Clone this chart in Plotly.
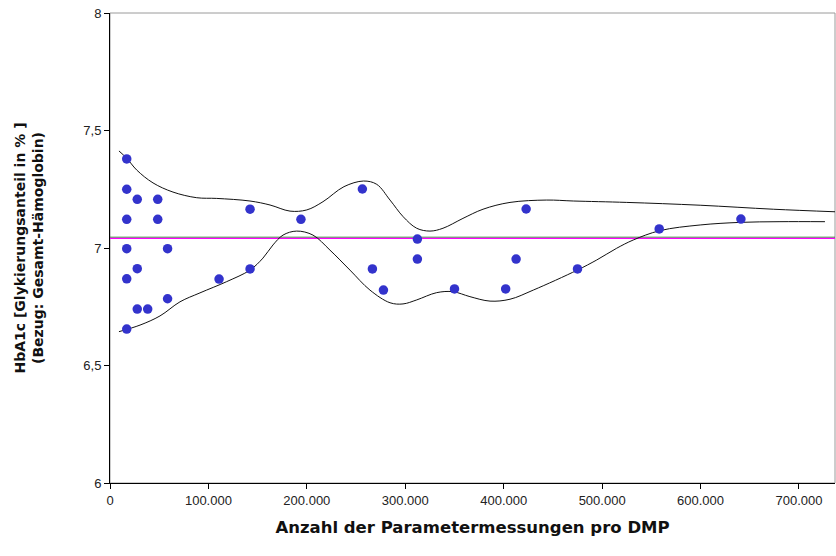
import plotly.graph_objects as go

# Scatter points (x = Anzahl Parametermessungen, y = HbA1c %)
pts_x = [17000, 17000, 27700, 48500, 17000, 48500, 17000, 58500, 27700, 17000,
         58500, 27700, 38300, 17000,
         142300, 194000, 110800, 142300,
         256400, 312300, 312300, 266600, 277800, 350000, 402000, 412600, 422800,
         475000, 558000, 641000]
pts_y = [7.379, 7.250, 7.207, 7.207, 7.122, 7.122, 6.997, 6.997, 6.912, 6.869,
         6.784, 6.740, 6.740, 6.655,
         7.165, 7.122, 6.868, 6.911,
         7.251, 7.038, 6.953, 6.911, 6.821, 6.826, 6.826, 6.953, 7.166,
         6.911, 7.081, 7.123]

# Upper envelope curve
up_x = [9100, 17000, 27100, 43700, 64000, 88100, 108400, 142200, 162600, 182900,
        199900, 216400, 237700, 257600, 271000, 284500, 297900, 311600, 325100,
        338300, 358600, 379000, 406400, 443700, 470700, 525000, 599600, 673900, 737600]
up_y = [7.413, 7.382, 7.332, 7.277, 7.238, 7.214, 7.211, 7.200, 7.183, 7.157,
        7.162, 7.197, 7.261, 7.285, 7.271, 7.204, 7.133, 7.084, 7.072,
        7.084, 7.126, 7.165, 7.194, 7.204, 7.200, 7.194, 7.182, 7.165, 7.154]

# Lower envelope curve
lo_x = [9100, 30500, 50800, 71100, 91400, 118600, 142200, 155400, 165600, 175800,
        189700, 206200, 223500, 243800, 264100, 284500, 297700, 311600, 331900,
        348500, 365700, 386100, 406400, 430100, 474800, 494500, 514800, 531600,
        558800, 599600, 640000, 680700, 726400]
lo_y = [6.644, 6.672, 6.711, 6.771, 6.809, 6.857, 6.906, 6.957, 7.013, 7.055,
        7.072, 7.055, 6.991, 6.906, 6.821, 6.767, 6.762, 6.779, 6.810,
        6.814, 6.793, 6.774, 6.782, 6.821, 6.906, 6.949, 6.999, 7.034,
        7.074, 7.098, 7.109, 7.112, 7.112]

# Reference lines
green_level = 7.046
magenta_level = 7.041
x_range = [0, 736600]

y_tickvals = [6, 6.5, 7, 7.5, 8]
y_ticktext = ["6", "6,5", "7", "7,5", "8"]
x_tickvals = [0, 100000, 200000, 300000, 400000, 500000, 600000, 700000]
x_ticktext = ["0", "100.000", "200.000", "300.000", "400.000", "500.000", "600.000", "700.000"]

fig = go.Figure()
fig.add_trace(go.Scatter(x=x_range, y=[green_level, green_level], mode="lines",
                         line=dict(color="#2e8b2e", width=1), hoverinfo="skip"))
fig.add_trace(go.Scatter(x=x_range, y=[magenta_level, magenta_level], mode="lines",
                         line=dict(color="#ff00ff", width=1.2), hoverinfo="skip"))
fig.add_trace(go.Scatter(x=up_x, y=up_y, mode="lines", line_shape="spline",
                         line=dict(color="#111111", width=1)))
fig.add_trace(go.Scatter(x=lo_x, y=lo_y, mode="lines", line_shape="spline",
                         line=dict(color="#111111", width=1)))
fig.add_trace(go.Scatter(x=pts_x, y=pts_y, mode="markers",
                         marker=dict(color="#3333cc", size=9.5, line=dict(width=0))))

font_fam = "Liberation Sans, Arial, sans-serif"
title_fam = "DejaVu Sans, Liberation Sans, sans-serif"
fig.update_layout(
    width=836, height=556,
    margin=dict(l=110, r=1, t=13, b=73),
    paper_bgcolor="white", plot_bgcolor="white",
    showlegend=False,
    font=dict(family=font_fam, size=13, color="#222222"),
    shapes=[dict(type="rect", xref="paper", yref="paper", x0=0, x1=1, y0=0, y1=1,
                 line=dict(color="#9a9a9a", width=1), layer="below")],
    xaxis=dict(range=x_range, tickvals=x_tickvals, ticktext=x_ticktext,
               showgrid=False, zeroline=False, showline=True, linecolor="black", linewidth=1,
               ticks="outside", ticklen=5, tickcolor="black",
               title=dict(text="<b>Anzahl der Parametermessungen pro DMP</b>",
                          font=dict(family=title_fam, size=16.5, color="#111111"), standoff=14)),
    yaxis=dict(range=[6, 8], tickvals=y_tickvals, ticktext=y_ticktext,
               showgrid=False, zeroline=False, showline=True, linecolor="black", linewidth=1,
               ticks="outside", ticklen=5, tickcolor="black",
               title=dict(text="<b>HbA1c [Glykierungsanteil in % ]<br>(Bezug: Gesamt-Hämoglobin)</b>",
                          font=dict(family=title_fam, size=14, color="#111111"), standoff=36)),
)
fig.write_html("out.html", config={"displayModeBar": False},
               post_script="document.body.style.margin='0';document.body.style.overflow='hidden';")
